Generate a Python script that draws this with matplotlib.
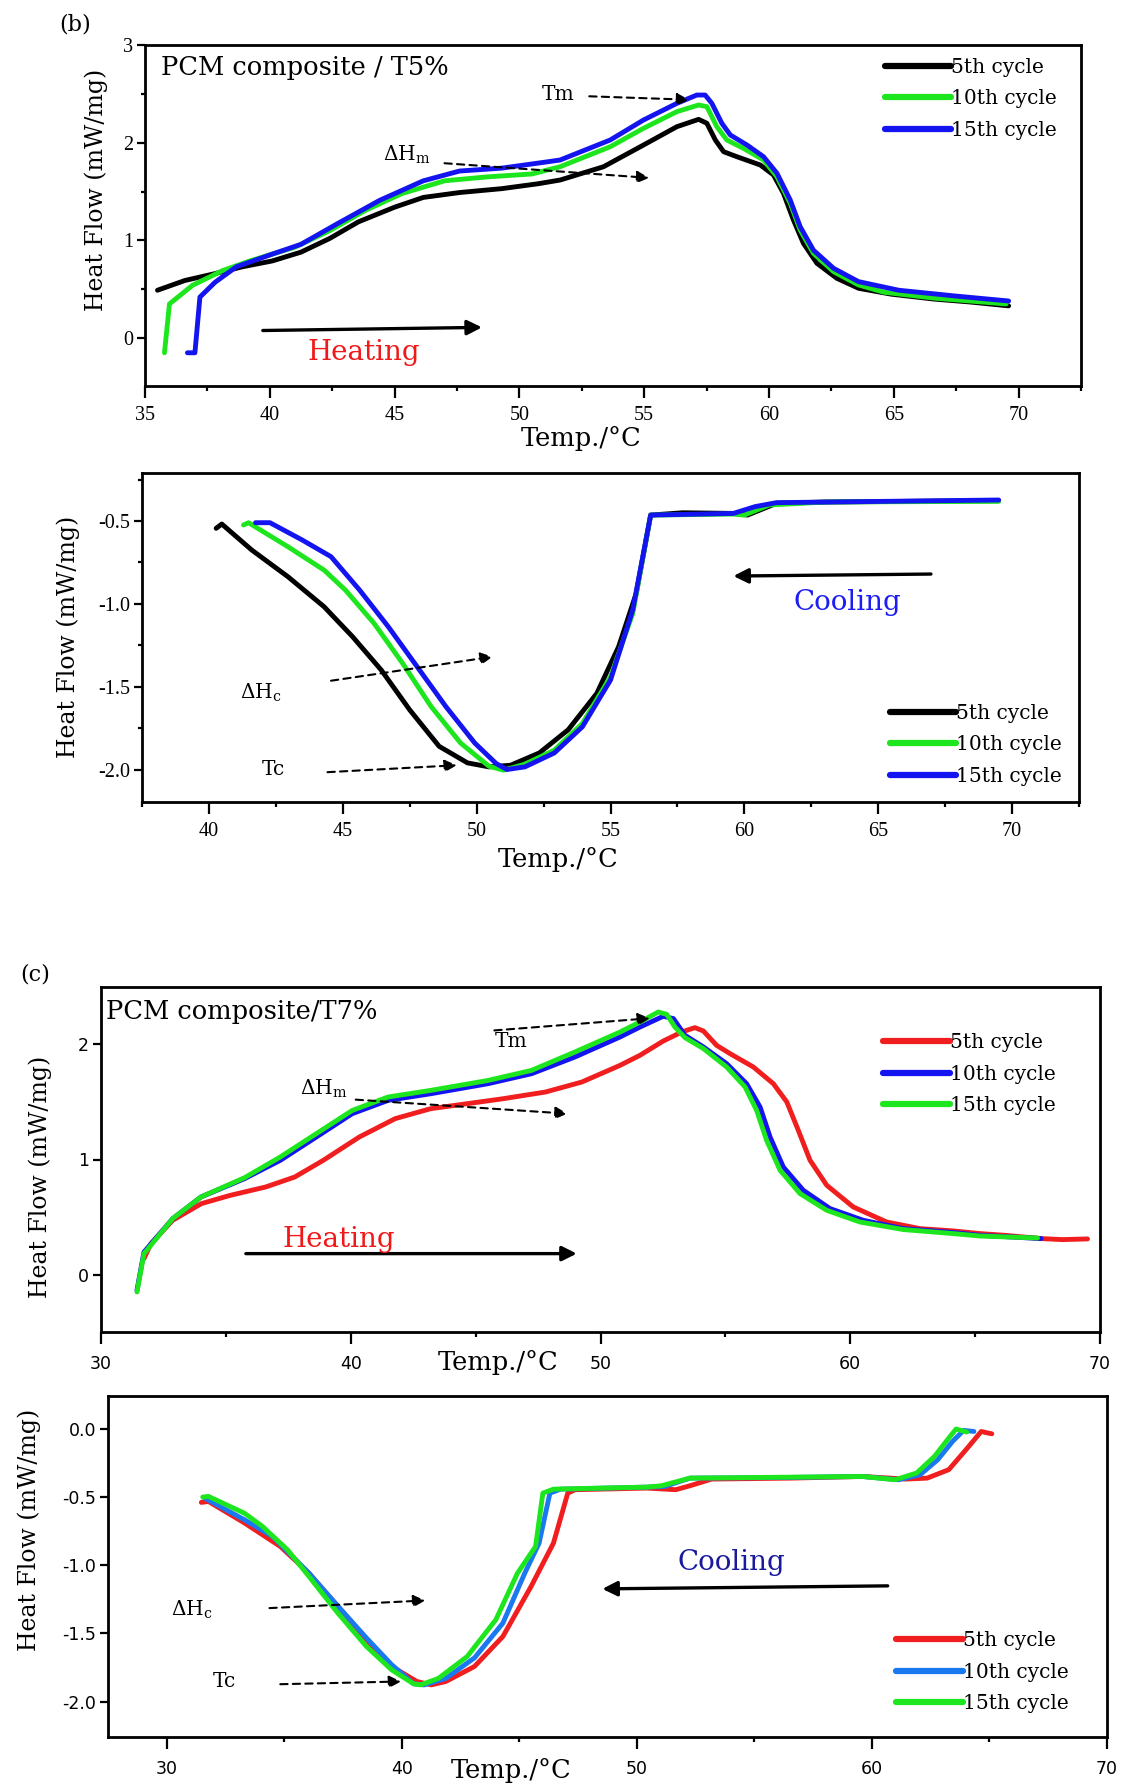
import matplotlib
matplotlib.use('Agg')
import matplotlib.pyplot as plt
from matplotlib.ticker import MultipleLocator, FormatStrFormatter

plt.rcParams['font.family'] = ['DejaVu Serif']
plt.rcParams['mathtext.fontset'] = 'dejavuserif'
plt.rcParams['axes.unicode_minus'] = False
plt.rcParams['lines.solid_joinstyle'] = 'round'
plt.rcParams['lines.solid_capstyle'] = 'round'

# ---- (b) heating, PCM composite / T5% ----
b_heat_t5 = [35.5, 36.6, 37.8, 38.9, 40.1, 41.25, 42.4, 43.55, 45.0, 46.15, 47.6, 49.3, 50.75, 51.63,
             53.37, 54.97, 56.31, 57.18, 57.51, 57.85, 58.18, 58.71, 59.65, 60.18, 60.58, 60.98,
             61.38, 61.92, 62.72, 63.59, 64.9, 66.6, 68.05, 69.6]
b_heat_h5 = [0.49, 0.59, 0.66, 0.73, 0.79, 0.88, 1.02, 1.19, 1.34, 1.44, 1.49, 1.53, 1.58, 1.618,
             1.754, 1.976, 2.164, 2.239, 2.199, 2.028, 1.908, 1.857, 1.772, 1.67, 1.482, 1.209,
             0.97, 0.766, 0.612, 0.51, 0.45, 0.40, 0.37, 0.33]
b_heat_t10 = [35.78, 35.98, 36.9, 38.1, 39.2, 41.0, 42.4, 43.85, 45.3, 47.0, 48.7, 50.5, 51.63, 53.64,
              54.97, 56.31, 57.18, 57.51, 57.91, 58.31, 58.98, 59.78, 60.32, 60.85, 61.25, 61.78,
              62.59, 63.59, 64.6, 66.6, 69.5]
b_heat_h10 = [-0.15, 0.35, 0.54, 0.69, 0.79, 0.93, 1.10, 1.31, 1.48, 1.61, 1.65, 1.68, 1.754, 1.959,
              2.147, 2.318, 2.386, 2.369, 2.164, 2.028, 1.942, 1.823, 1.652, 1.38, 1.106, 0.868,
              0.68, 0.544, 0.47, 0.41, 0.35]
b_heat_t15 = [36.7, 37.0, 37.2, 37.8, 38.66, 40.1, 41.25, 42.7, 44.4, 46.15, 47.6, 49.3, 51.0, 51.63,
              53.64, 54.97, 56.31, 57.11, 57.44, 57.71, 58.11, 58.45, 59.12, 59.78, 60.32, 60.85,
              61.25, 61.78, 62.59, 63.59, 65.2, 67.5, 69.6]
b_heat_h15 = [-0.15, -0.15, 0.42, 0.57, 0.73, 0.86, 0.96, 1.17, 1.41, 1.61, 1.71, 1.74, 1.80, 1.823,
              2.028, 2.232, 2.403, 2.488, 2.488, 2.403, 2.199, 2.079, 1.976, 1.857, 1.687, 1.414,
              1.14, 0.90, 0.714, 0.578, 0.49, 0.43, 0.38]

# ---- (b) cooling ----
b_cool_t5 = [40.27, 40.48, 41.6, 42.95, 44.3, 45.37, 46.44, 47.5, 48.6, 49.66, 50.46, 51.27, 52.34,
             53.42, 54.49, 55.3, 55.96, 56.5, 57.7, 59.59, 60.12, 61.2, 63.07, 69.5]
b_cool_h5 = [-0.544, -0.518, -0.675, -0.836, -1.017, -1.199, -1.40, -1.64, -1.86, -1.96, -1.984,
             -1.974, -1.90, -1.76, -1.54, -1.26, -0.937, -0.464, -0.45, -0.454, -0.464, -0.393,
             -0.385, -0.377]
b_cool_t10 = [41.29, 41.48, 42.95, 44.3, 45.1, 46.17, 47.24, 48.3, 49.4, 50.46, 51.0, 51.8, 52.9,
              53.95, 55.0, 55.83, 56.5, 59.6, 60.0, 60.93, 63.07, 69.5]
b_cool_h10 = [-0.524, -0.51, -0.655, -0.796, -0.917, -1.118, -1.36, -1.62, -1.84, -1.98, -2.004,
              -1.968, -1.883, -1.722, -1.44, -1.058, -0.464, -0.458, -0.464, -0.403, -0.385, -0.381]
b_cool_t15 = [41.74, 42.28, 43.49, 44.56, 45.63, 46.7, 47.78, 48.85, 49.93, 50.73, 51.13, 51.8, 52.9,
              53.95, 55.0, 55.83, 56.5, 59.59, 60.4, 61.2, 69.5]
b_cool_h15 = [-0.51, -0.51, -0.615, -0.715, -0.917, -1.138, -1.38, -1.62, -1.84, -1.964, -2.0,
              -1.984, -1.90, -1.742, -1.46, -1.037, -0.464, -0.454, -0.413, -0.389, -0.373]

# ---- (c) heating, PCM composite/T7% ----
c_heat_t5 = [31.72, 32.0, 32.87, 34.02, 35.17, 36.6, 37.76, 38.9, 40.34, 41.78, 43.2, 44.66, 46.1,
             47.8, 49.25, 50.78, 51.58, 52.51, 53.25, 53.78, 54.12, 54.65, 55.19, 56.12, 56.92,
             57.46, 57.92, 58.39, 59.06, 60.12, 61.46, 62.79, 64.13, 65.2, 66.2, 67.64, 68.5, 69.5]
c_heat_h5 = [0.144, 0.273, 0.475, 0.619, 0.69, 0.763, 0.849, 0.993, 1.194, 1.353, 1.439, 1.482, 1.525,
             1.583, 1.669, 1.813, 1.90, 2.023, 2.101, 2.139, 2.11, 1.986, 1.914, 1.799, 1.655,
             1.497, 1.252, 0.993, 0.777, 0.59, 0.46, 0.403, 0.383, 0.36, 0.345, 0.317, 0.308, 0.314]
c_heat_t10 = [31.44, 31.72, 32.87, 34.0, 35.75, 37.18, 38.62, 40.06, 41.5, 43.2, 45.5, 47.24, 48.97,
              50.78, 51.58, 52.51, 52.92, 53.38, 54.12, 55.05, 55.85, 56.39, 56.79, 57.32, 58.12,
              59.19, 60.52, 62.12, 64.13, 65.2, 67.64]
c_heat_h10 = [-0.13, 0.20, 0.489, 0.676, 0.835, 0.993, 1.194, 1.396, 1.511, 1.568, 1.655, 1.741, 1.885,
              2.058, 2.144, 2.237, 2.217, 2.073, 1.972, 1.828, 1.655, 1.453, 1.194, 0.935, 0.734,
              0.576, 0.475, 0.403, 0.369, 0.345, 0.317]
c_heat_t15 = [31.44, 31.72, 32.87, 34.0, 35.75, 37.18, 38.62, 40.06, 41.5, 43.2, 45.5, 47.24, 48.97,
              50.78, 51.58, 52.31, 52.65, 52.98, 53.38, 54.12, 55.05, 55.79, 56.25, 56.65, 57.19,
              57.99, 59.06, 60.39, 62.12, 64.13, 65.2, 67.5]
c_heat_h15 = [-0.144, 0.187, 0.489, 0.676, 0.843, 1.022, 1.223, 1.424, 1.54, 1.597, 1.683, 1.77, 1.928,
              2.101, 2.187, 2.274, 2.254, 2.144, 2.053, 1.958, 1.799, 1.626, 1.425, 1.166, 0.907,
              0.705, 0.561, 0.46, 0.395, 0.36, 0.339, 0.322]

# ---- (c) cooling ----
c_cool_t5 = [31.47, 31.77, 33.3, 34.83, 36.05, 37.28, 38.5, 39.57, 40.64, 41.25, 41.87, 43.09, 44.3,
             45.5, 46.45, 47.06, 47.37, 50.43, 51.65, 52.26, 53.18, 56.54, 59.6, 61.44, 62.35, 63.27,
             64.0, 64.65, 64.95, 65.1]
c_cool_h5 = [-0.54, -0.533, -0.69, -0.863, -1.059, -1.303, -1.548, -1.743, -1.853, -1.878, -1.853,
             -1.743, -1.523, -1.156, -0.839, -0.472, -0.447, -0.435, -0.447, -0.418, -0.369, -0.362,
             -0.35, -0.369, -0.362, -0.30, -0.154, -0.02, -0.032, -0.037]
c_cool_t10 = [31.62, 33.3, 34.5, 36.05, 37.28, 38.5, 39.57, 40.5, 40.95, 41.87, 43.09, 44.3, 45.23,
              45.84, 46.3, 46.76, 50.43, 51.19, 52.26, 56.54, 59.6, 61.13, 62.05, 62.8, 63.43, 63.9,
              64.34]
c_cool_h10 = [-0.509, -0.667, -0.79, -1.059, -1.30, -1.535, -1.73, -1.87, -1.878, -1.83, -1.68, -1.425,
              -1.059, -0.839, -0.472, -0.443, -0.428, -0.423, -0.362, -0.357, -0.35, -0.374, -0.337,
              -0.227, -0.093, -0.012, -0.02]
c_cool_t15 = [31.53, 31.77, 33.3, 34.07, 35.14, 36.05, 37.28, 38.5, 39.57, 40.5, 40.8, 41.56, 42.78,
              44.0, 44.92, 45.69, 46.0, 46.45, 50.43, 51.04, 52.26, 56.54, 59.6, 60.98, 61.9, 62.66,
              63.27, 63.58, 64.03]
c_cool_h15 = [-0.501, -0.496, -0.619, -0.716, -0.888, -1.083, -1.352, -1.597, -1.768, -1.870, -1.878,
              -1.83, -1.67, -1.40, -1.059, -0.863, -0.472, -0.443, -0.428, -0.418, -0.362, -0.355,
              -0.35, -0.374, -0.325, -0.203, -0.068, -0.002, -0.024]

cycle_labels = ['5th cycle', '10th cycle', '15th cycle']

W, H = 1126, 1786
fig = plt.figure(figsize=(W / 100, H / 100), dpi=100)


def add_axes(left, top, right, bottom):
    return fig.add_axes([left / W, 1 - bottom / H, (right - left) / W, (bottom - top) / H])


def style(ax, tick_font, tick_size, xmaj, xmin, ymaj, ymin, xpad):
    for s in ax.spines.values():
        s.set_linewidth(2.0)
    ax.xaxis.set_major_locator(MultipleLocator(xmaj))
    ax.xaxis.set_minor_locator(MultipleLocator(xmin))
    ax.yaxis.set_major_locator(MultipleLocator(ymaj))
    if ymin:
        ax.yaxis.set_minor_locator(MultipleLocator(ymin))
    else:
        ax.yaxis.set_minor_locator(plt.NullLocator())
    ax.tick_params(axis='x', which='major', direction='out', length=8.5, width=1.6, pad=xpad)
    ax.tick_params(axis='x', which='minor', direction='out', length=3.8, width=1.6)
    ax.tick_params(axis='y', which='major', direction='out', length=5.5, width=1.6, pad=3)
    ax.tick_params(axis='y', which='minor', direction='out', length=2.8, width=1.6)
    for lab in ax.get_xticklabels() + ax.get_yticklabels():
        lab.set_fontfamily(tick_font)
        lab.set_fontsize(tick_size)


def ylab(ax, x, y):
    ax.text(x, y, 'Heat Flow (mW/mg)', transform=ax.transAxes, rotation=90,
            ha='center', va='center', fontsize=17)


def xlab(ax, x, y):
    ax.text(x, y, 'Temp./°C', transform=ax.transAxes, ha='center', va='center', fontsize=18.5)


def dash_arrow(ax, start, end):
    ax.annotate('', xy=end, xytext=start,
                arrowprops=dict(arrowstyle='-|>', color='black', lw=1.5,
                                linestyle=(0, (3.5, 2.5)), mutation_scale=18, shrinkA=0, shrinkB=0))


def solid_arrow(ax, start, end):
    ax.annotate('', xy=end, xytext=start,
                arrowprops=dict(arrowstyle='-|>', color='black', lw=2.4,
                                mutation_scale=22, shrinkA=0, shrinkB=0))


def legend(ax, x, y):
    leg = ax.legend(loc='upper left', bbox_to_anchor=(x, y), frameon=False, fontsize=14.5,
                    handlelength=3.3, handletextpad=0.0, labelspacing=0.62,
                    borderpad=0, borderaxespad=0)
    for line in leg.get_lines():
        line.set_linewidth(4.5)


lw = 3.5

# (b) heating
ax1 = add_axes(145, 45, 1081, 386)
ax1.plot(b_heat_t5, b_heat_h5, color='black', lw=lw, label=cycle_labels[0])
ax1.plot(b_heat_t10, b_heat_h10, color='#1ee61e', lw=lw, label=cycle_labels[1])
ax1.plot(b_heat_t15, b_heat_h15, color='#1414f0', lw=lw, label=cycle_labels[2])
ax1.set_xlim(35, 72.5)
ax1.set_ylim(-0.49, 3)
style(ax1, 'Liberation Serif', 14.5, 5, 2.5, 1, 0.5, 6)
legend(ax1, 0.7906, 0.962)
ax1.text(0.0176, 0.9326, 'PCM composite / T5%', transform=ax1.transAxes, ha='left', va='center',
         fontsize=18.5)
ax1.text(51.54, 2.49, 'Tm', ha='center', va='center', fontsize=14.5)
dash_arrow(ax1, (52.8, 2.475), (56.8, 2.44))
ax1.text(45.5, 1.88, r'$\Delta$H$_\mathrm{m}$', ha='center', va='center', fontsize=14.5)
dash_arrow(ax1, (47.0, 1.79), (55.2, 1.64))
solid_arrow(ax1, (39.72, 0.078), (48.5, 0.11))
ax1.text(43.76, -0.15, 'Heating', color='#f01818', ha='center', va='center', fontsize=20)
ylab(ax1, -0.0524, 0.575)
xlab(ax1, 0.466, -0.1525)
fig.text(75 / W, 1 - 25 / H, '(b)', ha='center', va='center', fontsize=16)

# (b) cooling
ax2 = add_axes(142, 473, 1079, 802)
ax2.plot(b_cool_t5, b_cool_h5, color='black', lw=lw, label=cycle_labels[0])
ax2.plot(b_cool_t10, b_cool_h10, color='#1ee61e', lw=lw, label=cycle_labels[1])
ax2.plot(b_cool_t15, b_cool_h15, color='#1414f0', lw=lw, label=cycle_labels[2])
ax2.set_xlim(37.5, 72.5)
ax2.set_ylim(-2.196, -0.21)
style(ax2, 'Liberation Serif', 14.5, 5, 2.5, 0.5, 0.25, 6)
legend(ax2, 0.798, 0.298)
ax2.text(41.93, -1.54, r'$\Delta$H$_\mathrm{c}$', ha='center', va='center', fontsize=14.5)
dash_arrow(ax2, (44.56, -1.464), (50.6, -1.319))
ax2.text(42.41, -2.0, 'Tc', ha='center', va='center', fontsize=14.5)
dash_arrow(ax2, (44.43, -2.016), (49.26, -1.974))
solid_arrow(ax2, (66.97, -0.82), (59.59, -0.832))
ax2.text(63.83, -0.993, 'Cooling', color='#1c1cf5', ha='center', va='center', fontsize=20)
ylab(ax2, -0.079, 0.5015)
xlab(ax2, 0.444, -0.176)

# (c) heating
ax3 = add_axes(101, 987, 1100, 1332)
ax3.plot(c_heat_t5, c_heat_h5, color='#f01e1e', lw=lw, label=cycle_labels[0])
ax3.plot(c_heat_t10, c_heat_h10, color='#1414f0', lw=lw, label=cycle_labels[1])
ax3.plot(c_heat_t15, c_heat_h15, color='#1ee61e', lw=lw, label=cycle_labels[2])
ax3.set_xlim(30, 70)
ax3.set_ylim(-0.49, 2.49)
style(ax3, 'DejaVu Sans', 12.5, 10, 5, 1, None, 8)
legend(ax3, 0.783, 0.866)
ax3.text(0.005, 0.928, 'PCM composite/T7%', transform=ax3.transAxes, ha='left', va='center',
         fontsize=18.5)
ax3.text(46.44, 2.02, 'Tm', ha='center', va='center', fontsize=14.5)
dash_arrow(ax3, (45.75, 2.115), (51.98, 2.22))
ax3.text(38.9, 1.61, r'$\Delta$H$_\mathrm{m}$', ha='center', va='center', fontsize=14.5)
dash_arrow(ax3, (40.2, 1.517), (48.68, 1.396))
solid_arrow(ax3, (35.8, 0.187), (49.05, 0.187))
ax3.text(39.54, 0.31, 'Heating', color='#f01818', ha='center', va='center', fontsize=20)
ylab(ax3, -0.061, 0.449)
xlab(ax3, 0.398, -0.087)
fig.text(35 / W, 1 - 975 / H, '(c)', ha='center', va='center', fontsize=16)

# (c) cooling
ax4 = add_axes(108, 1396, 1107, 1737)
ax4.plot(c_cool_t5, c_cool_h5, color='#f01e1e', lw=lw, label=cycle_labels[0])
ax4.plot(c_cool_t10, c_cool_h10, color='#1a78f0', lw=lw, label=cycle_labels[1])
ax4.plot(c_cool_t15, c_cool_h15, color='#1ee61e', lw=lw, label=cycle_labels[2])
ax4.set_xlim(27.5, 70)
ax4.set_ylim(-2.26, 0.24)
style(ax4, 'DejaVu Sans', 12.5, 10, 5, 0.5, None, 8)
ax4.yaxis.set_major_formatter(FormatStrFormatter('%.1f'))
legend(ax4, 0.789, 0.31)
ax4.text(31.07, -1.328, r'$\Delta$H$_\mathrm{c}$', ha='center', va='center', fontsize=14.5)
dash_arrow(ax4, (34.37, -1.315), (41.0, -1.259))
ax4.text(32.45, -1.853, 'Tc', ha='center', va='center', fontsize=14.5)
dash_arrow(ax4, (34.83, -1.873), (39.97, -1.853))
solid_arrow(ax4, (60.67, -1.152), (48.53, -1.174))
ax4.text(54.04, -0.98, 'Cooling', color='#1a1a9c', ha='center', va='center', fontsize=20)
ylab(ax4, -0.079, 0.607)
xlab(ax4, 0.404, -0.097)

fig.savefig('out.png', dpi=100, facecolor='white')
